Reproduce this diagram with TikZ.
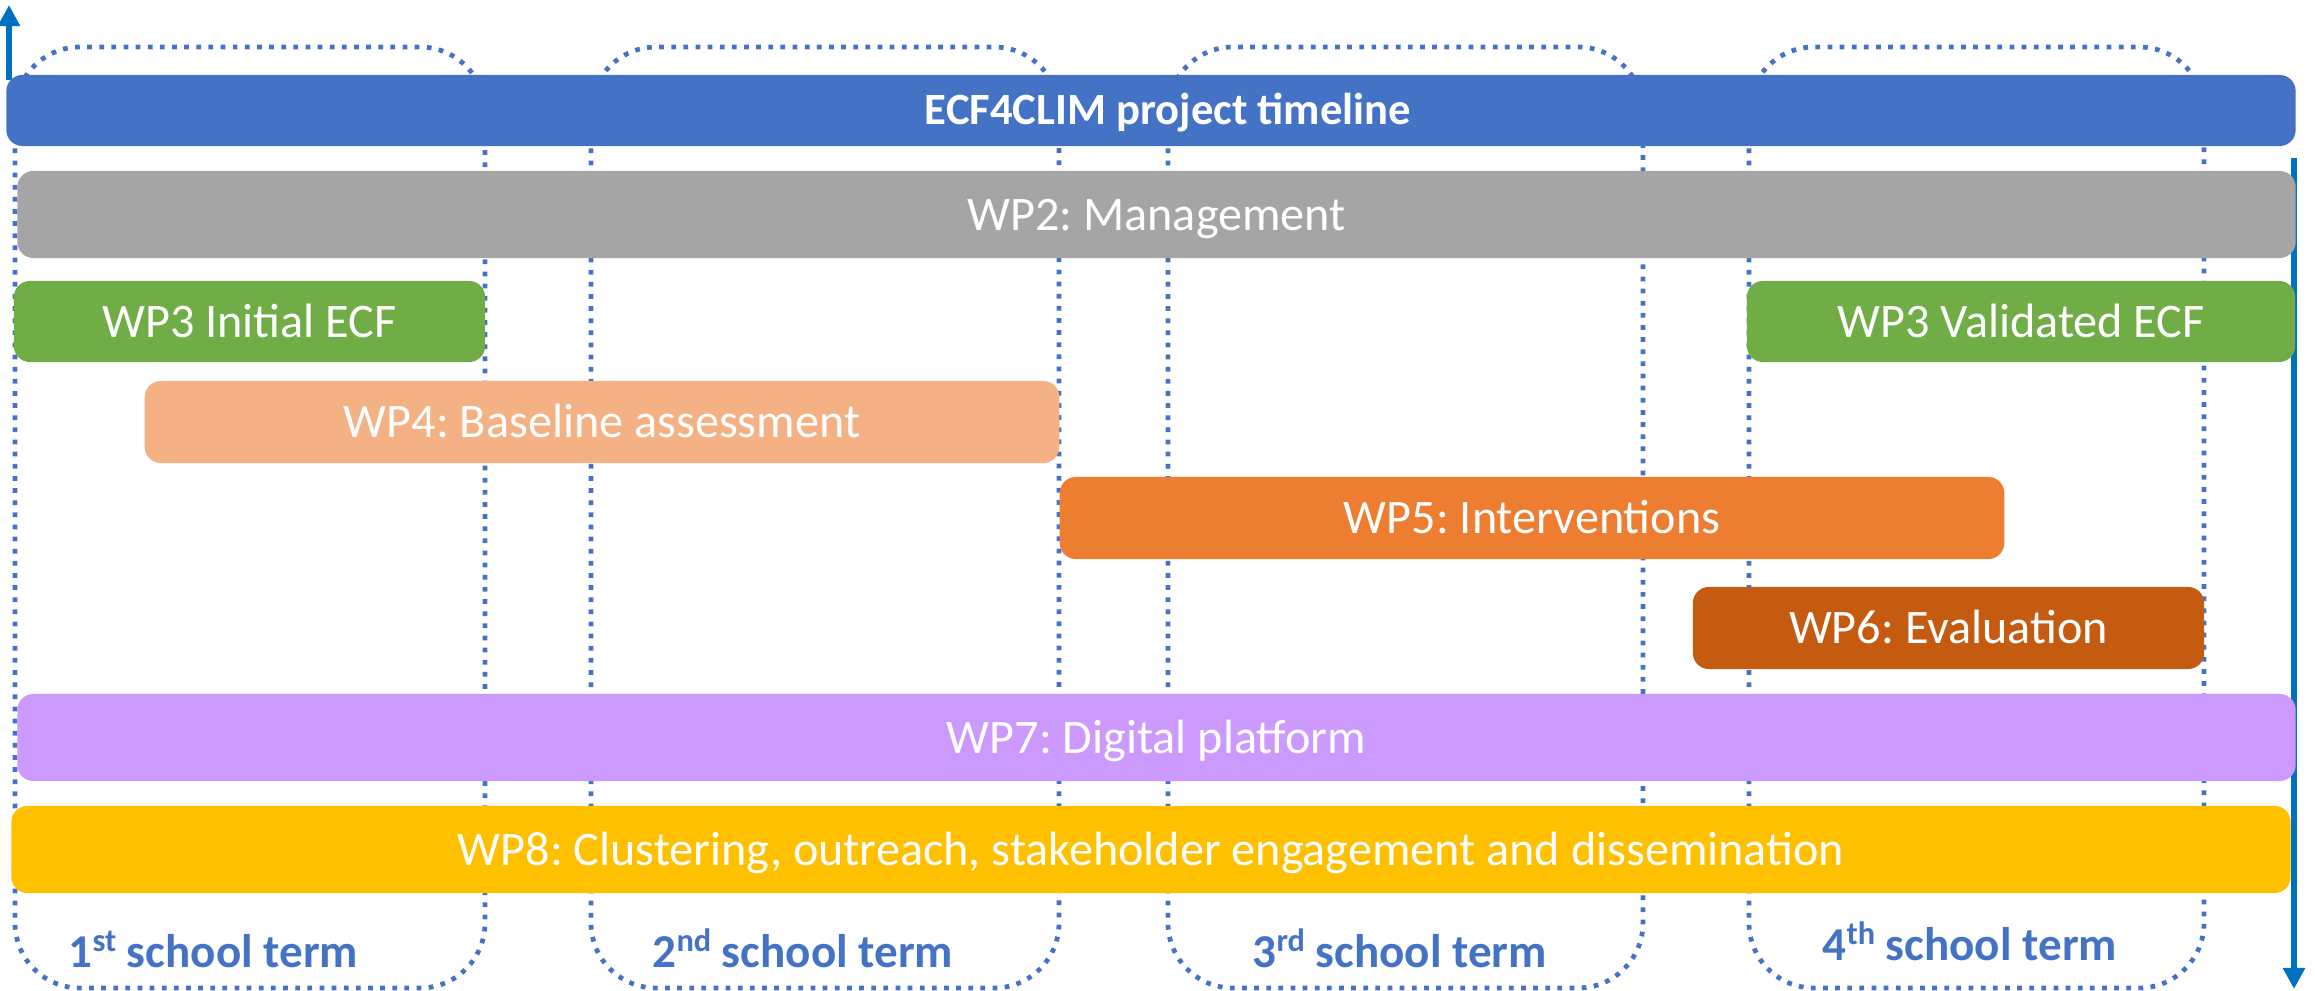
\documentclass[tikz,border=0pt]{standalone}
\usepackage{fontspec}
\setmainfont{Carlito}
\usetikzlibrary{arrows.meta}
\definecolor{ecfblue}{HTML}{4472C4}
\definecolor{wpgray}{HTML}{A5A5A5}
\definecolor{wpgreen}{HTML}{70AD47}
\definecolor{wplightorange}{HTML}{F4B183}
\definecolor{wporange}{HTML}{ED7D31}
\definecolor{wpdarkorange}{HTML}{C55A11}
\definecolor{wppurple}{HTML}{CC99FF}
\definecolor{wpgold}{HTML}{FFC000}
\definecolor{arrowblue}{HTML}{0070C0}
\newcommand{\supx}[1]{\raisebox{0.32em}{\fontsize{9.2}{10}\selectfont #1}}
\frenchspacing
\begin{document}
\begin{tikzpicture}[x=0.01cm,y=-0.01cm,
  bar/.style={rounded corners=0.16cm, inner sep=0pt, outer sep=0pt, text=white,
    font=\fontsize{13.7}{16}\selectfont\frenchspacing, text height=8.82pt, text depth=0pt},
  termbox/.style={draw=ecfblue, line width=1.35pt, dash pattern=on 1.35pt off 2.1pt, rounded corners=0.65cm},
  termlabel/.style={anchor=base west, inner sep=0pt, text=ecfblue, font=\fontsize{13.4}{16}\selectfont\bfseries},
  timearrow/.style={draw=arrowblue, line width=1.6pt, -{Triangle[width=6pt,length=6pt]}}
]
\useasboundingbox (0,0) rectangle (2315,991);
% school terms
\draw[termbox] (15,47) rectangle (485,988);
\draw[termbox] (591,47) rectangle (1059,988);
\draw[termbox] (1168,47) rectangle (1643,988);
\draw[termbox] (1749,47) rectangle (2204,988);
% arrows
\coordinate (la0) at (9,80);
\coordinate (la1) at (9,5);
\coordinate (ra0) at (2294,158);
\coordinate (ra1) at (2294,989);
\draw[timearrow] (la0) -- (la1);
\draw[timearrow] (ra0) -- (ra1);
% bars
\node[bar, fill=ecfblue, minimum width=22.88cm, minimum height=0.71cm] (ecf) at (1151,110.5) {};
\node[inner sep=0pt, text=white, font=\fontsize{12.7}{15}\selectfont\bfseries, text height=8.18pt, text depth=0pt] (ecftitle) at (1168,110.5) {ECF4CLIM project timeline};
\node[bar, fill=wpgray, minimum width=22.77cm, minimum height=0.87cm] (wp2) at (1156.5,214.5) {WP2: Management};
\node[bar, fill=wpgreen, minimum width=4.71cm, minimum height=0.81cm] (wp3i) at (249.5,321.5) {WP3 Initial ECF};
\node[bar, fill=wpgreen, minimum width=5.48cm, minimum height=0.81cm] (wp3v) at (2021,321.5) {WP3 Validated ECF};
\node[bar, fill=wplightorange, minimum width=9.14cm, minimum height=0.82cm] (wp4) at (602,422) {WP4: Baseline assessment};
\node[bar, fill=wporange, minimum width=9.44cm, minimum height=0.82cm] (wp5) at (1532,518) {WP5: Interventions};
\node[bar, fill=wpdarkorange, minimum width=5.11cm, minimum height=0.82cm] (wp6) at (1948.5,628) {WP6: Evaluation};
\node[bar, fill=wppurple, minimum width=22.77cm, minimum height=0.87cm] (wp7) at (1156.5,737.5) {WP7: Digital platform};
\node[bar, fill=wpgold, minimum width=22.78cm, minimum height=0.87cm] (wp8) at (1151,849.5) {WP8: Clustering, outreach, stakeholder engagement and dissemination};
% term labels
\node[termlabel] (t1) at (68,967) {1\supx{st} school term};
\node[termlabel] (t2) at (652,967) {2\supx{nd} school term};
\node[termlabel] (t3) at (1252,967) {3\supx{rd} school term};
\node[termlabel] (t4) at (1822,960) {4\supx{th} school term};
\end{tikzpicture}
\end{document}
